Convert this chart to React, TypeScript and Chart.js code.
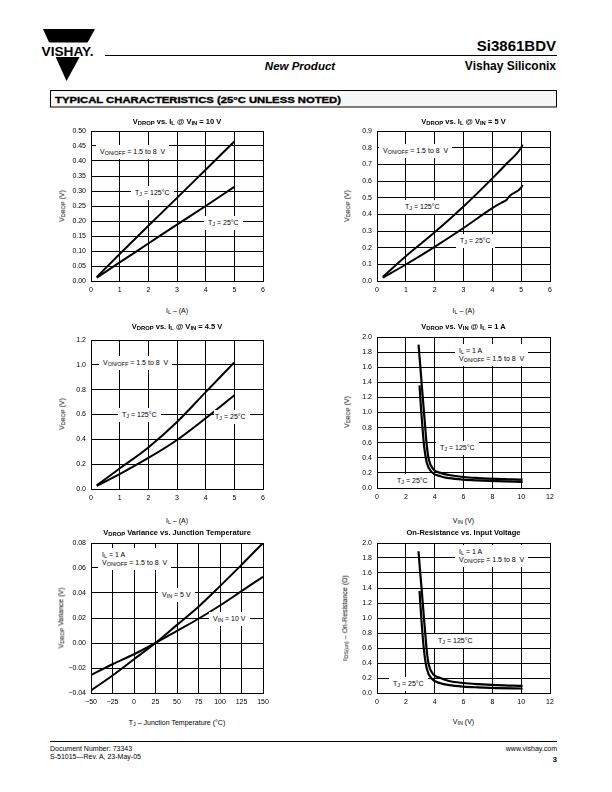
import React, { useEffect, useRef } from 'react';
import { Chart, registerables } from 'chart.js';

Chart.register(...registerables);

const FONT = '"Liberation Sans", Arial, Helvetica, sans-serif';

// ---------- Chart 1: VDROP vs. IL @ VIN = 10 V ----------
const c1XTicks = [0, 1, 2, 3, 4, 5, 6];
const c1XLabels = ['0', '1', '2', '3', '4', '5', '6'];
const c1YTicks = [0, 0.05, 0.1, 0.15, 0.2, 0.25, 0.3, 0.35, 0.4, 0.45, 0.5];
const c1YLabels = ['0.00', '0.05', '0.10', '0.15', '0.20', '0.25', '0.30', '0.35', '0.40', '0.45', '0.50'];
const c1IL = [0.2, 1, 2, 3, 4, 5];
const c1V125 = [0.013, 0.09, 0.184, 0.277, 0.371, 0.465];
const c1V25 = [0.011, 0.062, 0.125, 0.188, 0.25, 0.314];

// ---------- Chart 2: VDROP vs. IL @ VIN = 5 V ----------
const c2XTicks = [0, 1, 2, 3, 4, 5, 6];
const c2XLabels = ['0', '1', '2', '3', '4', '5', '6'];
const c2YTicks = [0, 0.1, 0.2, 0.3, 0.4, 0.5, 0.6, 0.7, 0.8, 0.9];
const c2YLabels = ['0.0', '0.1', '0.2', '0.3', '0.4', '0.5', '0.6', '0.7', '0.8', '0.9'];
const c2IL125 = [0.2, 1, 2, 3, 4, 4.5, 5, 5.05];
const c2V125 = [0.025, 0.149, 0.292, 0.447, 0.616, 0.705, 0.8, 0.818];
const c2IL25 = [0.2, 1, 2, 3, 4, 4.3, 4.5, 4.6, 5, 5.05];
const c2V25 = [0.02, 0.099, 0.205, 0.318, 0.437, 0.468, 0.488, 0.51, 0.56, 0.577];

// ---------- Chart 3: VDROP vs. IL @ VIN = 4.5 V ----------
const c3XTicks = [0, 1, 2, 3, 4, 5, 6];
const c3XLabels = ['0', '1', '2', '3', '4', '5', '6'];
const c3YTicks = [0, 0.2, 0.4, 0.6, 0.8, 1.0, 1.2];
const c3YLabels = ['0.0', '0.2', '0.4', '0.6', '0.8', '1.0', '1.2'];
const c3IL = [0.2, 1, 2, 3, 4, 5];
const c3V125 = [0.03, 0.165, 0.335, 0.54, 0.78, 1.02];
const c3V25 = [0.025, 0.12, 0.25, 0.395, 0.57, 0.755];

// ---------- Chart 4: VDROP vs. VIN @ IL = 1 A ----------
const c4XTicks = [0, 2, 4, 6, 8, 10, 12];
const c4XLabels = ['0', '2', '4', '6', '8', '10', '12'];
const c4YTicks = [0, 0.2, 0.4, 0.6, 0.8, 1.0, 1.2, 1.4, 1.6, 1.8, 2.0];
const c4YLabels = ['0.0', '0.2', '0.4', '0.6', '0.8', '1.0', '1.2', '1.4', '1.6', '1.8', '2.0'];
const c4VIN125 = [2.88, 3.0, 3.11, 3.3, 3.46, 3.59, 3.9, 4.4, 5, 6, 7, 8.3, 10.1];
const c4V125 = [1.9, 1.62, 1.35, 0.91, 0.55, 0.38, 0.25, 0.2, 0.172, 0.146, 0.132, 0.12, 0.11];
const c4VIN25 = [2.95, 3.03, 3.11, 3.27, 3.46, 3.8, 4.4, 5, 6, 7, 8.3, 10.1];
const c4V25 = [1.36, 1.12, 0.91, 0.55, 0.33, 0.21, 0.155, 0.13, 0.11, 0.1, 0.092, 0.08];

// ---------- Chart 5: VDROP Variance vs. Junction Temperature ----------
const c5XTicks = [-50, -25, 0, 25, 50, 75, 100, 125, 150];
const c5XLabels = ['\u221250', '\u221225', '0', '25', '50', '75', '100', '125', '150'];
const c5YTicks = [-0.04, -0.02, 0, 0.02, 0.04, 0.06, 0.08];
const c5YLabels = ['\u22120.04', '\u22120.02', '0.00', '0.02', '0.04', '0.06', '0.08'];
const c5TJ = [-50, -25, 0, 25, 50, 75, 100, 125, 150];
const c5Vin5 = [-0.038, -0.026, -0.013, 0, 0.0145, 0.029, 0.0455, 0.0625, 0.08];
const c5Vin10 = [-0.0256, -0.017, -0.009, 0, 0.0097, 0.0194, 0.03, 0.0415, 0.053];

// ---------- Chart 6: On-Resistance vs. Input Voltage ----------
const c6XTicks = [0, 2, 4, 6, 8, 10, 12];
const c6XLabels = ['0', '2', '4', '6', '8', '10', '12'];
const c6YTicks = [0, 0.2, 0.4, 0.6, 0.8, 1.0, 1.2, 1.4, 1.6, 1.8, 2.0];
const c6YLabels = ['0.0', '0.2', '0.4', '0.6', '0.8', '1.0', '1.2', '1.4', '1.6', '1.8', '2.0'];
const c6VIN125 = [2.88, 3.0, 3.11, 3.3, 3.46, 3.6, 3.9, 4.4, 5, 6, 7, 8.3, 10.1];
const c6R125 = [1.89, 1.6, 1.35, 0.9, 0.55, 0.37, 0.25, 0.2, 0.16, 0.133, 0.118, 0.105, 0.095];
const c6VIN25 = [2.95, 3.03, 3.11, 3.27, 3.46, 3.8, 4.4, 5, 6, 7, 8.3, 10.1];
const c6R25 = [1.36, 1.12, 0.9, 0.55, 0.32, 0.19, 0.13, 0.105, 0.085, 0.075, 0.066, 0.06];

const PAD_L = 34;
const PAD_R = 12;
const PAD_T = 10;
const PAD_B = 16;

type Series = { xs: number[]; ys: number[] };
type PanelProps = {
  left: number;
  top: number;
  width: number;
  height: number;
  xTicks: number[];
  xLabels: string[];
  yTicks: number[];
  yLabels: string[];
  series: Series[];
  lineWidth?: number;
};

function Panel(p: PanelProps) {
  const ref = useRef<HTMLCanvasElement>(null);
  const cw = PAD_L + p.width + PAD_R;
  const ch = PAD_T + p.height + PAD_B;
  useEffect(() => {
    const tickFont = { family: FONT, size: 7 };
    const chart = new Chart(ref.current as HTMLCanvasElement, {
      type: 'line',
      data: {
        datasets: p.series.map((s) => ({
          data: s.xs.map((x, i) => ({ x, y: s.ys[i] })),
          borderColor: '#000',
          backgroundColor: '#000',
          borderWidth: p.lineWidth ?? 2,
          pointRadius: 0,
          fill: false,
          cubicInterpolationMode: 'monotone' as const,
        })),
      },
      options: {
        responsive: false,
        animation: false,
        events: [],
        layout: { padding: { left: 0, top: PAD_T, right: PAD_R, bottom: 0 } },
        plugins: {
          legend: { display: false },
          tooltip: { enabled: false },
          title: { display: false },
        },
        scales: {
          x: {
            type: 'linear',
            min: p.xTicks[0],
            max: p.xTicks[p.xTicks.length - 1],
            afterBuildTicks: (s: any) => {
              s.ticks = p.xTicks.map((v) => ({ value: v }));
            },
            afterFit: (s: any) => {
              s.height = PAD_B;
            },
            grid: { color: '#000', lineWidth: 1, drawTicks: false },
            border: { color: '#000', width: 1 },
            ticks: {
              color: '#000',
              font: tickFont,
              padding: 5,
              maxRotation: 0,
              autoSkip: false,
              callback: (_v: any, i: number) => p.xLabels[i],
            },
          },
          y: {
            type: 'linear',
            min: p.yTicks[0],
            max: p.yTicks[p.yTicks.length - 1],
            afterBuildTicks: (s: any) => {
              s.ticks = p.yTicks.map((v) => ({ value: v }));
            },
            afterFit: (s: any) => {
              s.width = PAD_L;
            },
            grid: { color: '#000', lineWidth: 1, drawTicks: false },
            border: { color: '#000', width: 1 },
            ticks: {
              color: '#000',
              font: tickFont,
              padding: 5,
              autoSkip: false,
              callback: (_v: any, i: number) => p.yLabels[i],
            },
          },
        },
      } as any,
    });
    return () => chart.destroy();
  }, []);
  return (
    <canvas
      ref={ref}
      width={cw}
      height={ch}
      style={{ position: 'absolute', left: p.left - PAD_L, top: p.top - PAD_T, width: cw, height: ch }}
    />
  );
}

const Sub = ({ children }: { children: React.ReactNode }) => (
  <span style={{ fontSize: '0.78em', position: 'relative', top: '0.22em' }}>{children}</span>
);

const Title = ({ cx, cy, children }: { cx: number; cy: number; children: React.ReactNode }) => (
  <div
    style={{
      position: 'absolute',
      left: cx,
      top: cy,
      transform: 'translate(-50%, -50%)',
      whiteSpace: 'nowrap',
      fontSize: 7.5,
      fontWeight: 'bold',
      lineHeight: 1,
    }}
  >
    {children}
  </div>
);

const XTitle = ({ cx, cy, children }: { cx: number; cy: number; children: React.ReactNode }) => (
  <div
    style={{
      position: 'absolute',
      left: cx,
      top: cy,
      transform: 'translate(-50%, -50%)',
      whiteSpace: 'nowrap',
      fontSize: 7,
      lineHeight: 1,
    }}
  >
    {children}
  </div>
);

const YTitle = ({ cx, cy, children }: { cx: number; cy: number; children: React.ReactNode }) => (
  <div
    style={{
      position: 'absolute',
      left: cx,
      top: cy,
      transform: 'translate(-50%, -50%) rotate(-90deg)',
      whiteSpace: 'nowrap',
      fontSize: 7,
      lineHeight: 1,
    }}
  >
    {children}
  </div>
);

const Note = ({
  x,
  cy,
  padL = 4,
  children,
}: {
  x: number;
  cy: number;
  padL?: number;
  children: React.ReactNode;
}) => (
  <div
    style={{
      position: 'absolute',
      left: x - padL,
      top: cy,
      transform: 'translateY(-50%)',
      whiteSpace: 'nowrap',
      fontSize: 7,
      lineHeight: '7px',
      padding: `3px 4px 3px ${padL}px`,
      background: '#fff',
    }}
  >
    {children}
  </div>
);

const VDrop = () => (
  <>
    V<Sub>DROP</Sub>
  </>
);
const VOnOff = () => (
  <>
    V<Sub>ON/OFF</Sub> = 1.5 to 8&nbsp;&nbsp;V
  </>
);
const TJ = ({ t }: { t: string }) => (
  <>
    T<Sub>J</Sub> = {t}°C
  </>
);

export default function App() {
  return (
    <div
      style={{
        position: 'absolute',
        left: 0,
        top: 0,
        width: 612,
        height: 792,
        background: '#fff',
        fontFamily: FONT,
        color: '#000',
        overflow: 'hidden',
      }}
    >
      {/* Header */}
      <svg style={{ position: 'absolute', left: 0, top: 0 }} width={612} height={112}>
        <polygon points="43,29 95,29 66.5,81" fill="#000" />
        <rect x={38} y={42.5} width={62} height={14.5} fill="#fff" />
        <text
          x={41.5}
          y={55.5}
          fontFamily={FONT}
          fontWeight="bold"
          fontSize={13.5}
          textLength={52}
          lengthAdjust="spacingAndGlyphs"
        >
          VISHAY.
        </text>
        <line x1={105} y1={55.5} x2={557} y2={55.5} stroke="#000" strokeWidth={1} />
        <text x={556} y={51} textAnchor="end" fontFamily={FONT} fontWeight="bold" fontSize={15}>
          Si3861BDV
        </text>
        <text x={300} y={69.5} textAnchor="middle" fontFamily={FONT} fontWeight="bold" fontStyle="italic" fontSize={11.5}>
          New Product
        </text>
        <text x={556} y={70} textAnchor="end" fontFamily={FONT} fontWeight="bold" fontSize={12}>
          Vishay Siliconix
        </text>
        <rect x={50.5} y={90.5} width={506} height={16.5} fill="#f6f6f6" stroke="#000" strokeWidth={1} />
        <text
          x={55}
          y={102.5}
          fontFamily={FONT}
          fontWeight="bold"
          fontSize={9.5}
          stroke="#000"
          strokeWidth={0.35}
          textLength={286}
          lengthAdjust="spacingAndGlyphs"
        >
          TYPICAL CHARACTERISTICS (25°C UNLESS NOTED)
        </text>
      </svg>

      {/* Chart 1 */}
      <Panel
        left={91}
        top={131}
        width={172}
        height={150}
        xTicks={c1XTicks}
        xLabels={c1XLabels}
        yTicks={c1YTicks}
        yLabels={c1YLabels}
        series={[
          { xs: c1IL, ys: c1V125 },
          { xs: c1IL, ys: c1V25 },
        ]}
      />
      <Title cx={177} cy={122}>
        <VDrop /> vs. I<Sub>L</Sub> @ V<Sub>IN</Sub> = 10 V
      </Title>
      <YTitle cx={62} cy={206}>
        <VDrop /> (V)
      </YTitle>
      <XTitle cx={177} cy={311}>
        I<Sub>L</Sub> – (A)
      </XTitle>
      <Note x={100} cy={151.5}>
        <VOnOff />
      </Note>
      <Note x={135} cy={193}>
        <TJ t="125" />
      </Note>
      <Note x={208} cy={223}>
        <TJ t="25" />
      </Note>

      {/* Chart 2 */}
      <Panel
        left={377}
        top={131}
        width={173}
        height={150}
        xTicks={c2XTicks}
        xLabels={c2XLabels}
        yTicks={c2YTicks}
        yLabels={c2YLabels}
        series={[
          { xs: c2IL125, ys: c2V125 },
          { xs: c2IL25, ys: c2V25 },
        ]}
      />
      <Title cx={463.5} cy={122}>
        <VDrop /> vs. I<Sub>L</Sub> @ V<Sub>IN</Sub> = 5 V
      </Title>
      <YTitle cx={347} cy={206}>
        <VDrop /> (V)
      </YTitle>
      <XTitle cx={463.5} cy={311}>
        I<Sub>L</Sub> – (A)
      </XTitle>
      <Note x={383} cy={151}>
        <VOnOff />
      </Note>
      <Note x={405} cy={207}>
        <TJ t="125" />
      </Note>
      <Note x={460} cy={241}>
        <TJ t="25" />
      </Note>

      {/* Chart 3 */}
      <Panel
        left={91}
        top={340}
        width={172}
        height={149}
        xTicks={c3XTicks}
        xLabels={c3XLabels}
        yTicks={c3YTicks}
        yLabels={c3YLabels}
        series={[
          { xs: c3IL, ys: c3V125 },
          { xs: c3IL, ys: c3V25 },
        ]}
      />
      <Title cx={177} cy={327}>
        <VDrop /> vs. I<Sub>L</Sub> @ V<Sub>IN</Sub> = 4.5 V
      </Title>
      <YTitle cx={62} cy={414}>
        <VDrop /> (V)
      </YTitle>
      <XTitle cx={177} cy={521}>
        I<Sub>L</Sub> – (A)
      </XTitle>
      <Note x={103} cy={363}>
        <VOnOff />
      </Note>
      <Note x={122} cy={415}>
        <TJ t="125" />
      </Note>
      <Note x={215} cy={417} padL={1}>
        <TJ t="25" />
      </Note>

      {/* Chart 4 */}
      <Panel
        left={377}
        top={337}
        width={173}
        height={151}
        xTicks={c4XTicks}
        xLabels={c4XLabels}
        yTicks={c4YTicks}
        yLabels={c4YLabels}
        lineWidth={2.2}
        series={[
          { xs: c4VIN125, ys: c4V125 },
          { xs: c4VIN25, ys: c4V25 },
        ]}
      />
      <Title cx={463.5} cy={327}>
        <VDrop /> vs. V<Sub>IN</Sub> @ I<Sub>L</Sub> = 1 A
      </Title>
      <YTitle cx={347} cy={412}>
        <VDrop /> (V)
      </YTitle>
      <XTitle cx={463.5} cy={521}>
        V<Sub>IN</Sub> (V)
      </XTitle>
      <Note x={459} cy={354.5}>
        <div>
          I<Sub>L</Sub> = 1 A
        </div>
        <div>
          <VOnOff />
        </div>
      </Note>
      <Note x={440} cy={447.5}>
        <TJ t="125" />
      </Note>
      <Note x={397} cy={481}>
        <TJ t="25" />
      </Note>

      {/* Chart 5 */}
      <Panel
        left={91}
        top={543}
        width={172}
        height={150}
        xTicks={c5XTicks}
        xLabels={c5XLabels}
        yTicks={c5YTicks}
        yLabels={c5YLabels}
        series={[
          { xs: c5TJ, ys: c5Vin5 },
          { xs: c5TJ, ys: c5Vin10 },
        ]}
      />
      <Title cx={177} cy={532.5}>
        <VDrop /> Variance vs. Junction Temperature
      </Title>
      <YTitle cx={61} cy={618}>
        <VDrop /> Variance (V)
      </YTitle>
      <XTitle cx={177} cy={723}>
        T<Sub>J</Sub> – Junction Temperature (°C)
      </XTitle>
      <Note x={102} cy={558.5}>
        <div>
          I<Sub>L</Sub> = 1 A
        </div>
        <div>
          <VOnOff />
        </div>
      </Note>
      <Note x={162} cy={595}>
        V<Sub>IN</Sub> = 5 V
      </Note>
      <Note x={213} cy={619}>
        V<Sub>IN</Sub> = 10 V
      </Note>

      {/* Chart 6 */}
      <Panel
        left={377}
        top={543}
        width={173}
        height={150}
        xTicks={c6XTicks}
        xLabels={c6XLabels}
        yTicks={c6YTicks}
        yLabels={c6YLabels}
        lineWidth={2.2}
        series={[
          { xs: c6VIN125, ys: c6R125 },
          { xs: c6VIN25, ys: c6R25 },
        ]}
      />
      <Title cx={463.5} cy={533}>
        On-Resistance vs. Input Voltage
      </Title>
      <YTitle cx={345} cy={618}>
        r<Sub>DS(on)</Sub> – On-Resistance (Ω)
      </YTitle>
      <XTitle cx={463.5} cy={722}>
        V<Sub>IN</Sub> (V)
      </XTitle>
      <Note x={459} cy={555.5}>
        <div>
          I<Sub>L</Sub> = 1 A
        </div>
        <div>
          <VOnOff />
        </div>
      </Note>
      <Note x={438} cy={641}>
        <TJ t="125" />
      </Note>
      <Note x={393} cy={684}>
        <TJ t="25" />
      </Note>

      {/* Footer */}
      <svg style={{ position: 'absolute', left: 0, top: 730 }} width={612} height={40}>
        <line x1={50} y1={11.5} x2={557} y2={11.5} stroke="#000" strokeWidth={1} />
        <text x={50} y={20.5} fontFamily={FONT} fontSize={7}>
          Document Number:  73343
        </text>
        <text x={50} y={28.5} fontFamily={FONT} fontSize={7}>
          S-51015—Rev. A, 23-May-05
        </text>
        <text x={557} y={20.5} textAnchor="end" fontFamily={FONT} fontSize={7}>
          www.vishay.com
        </text>
        <text x={557} y={31.5} textAnchor="end" fontFamily={FONT} fontWeight="bold" fontSize={7.5}>
          3
        </text>
      </svg>
    </div>
  );
}
